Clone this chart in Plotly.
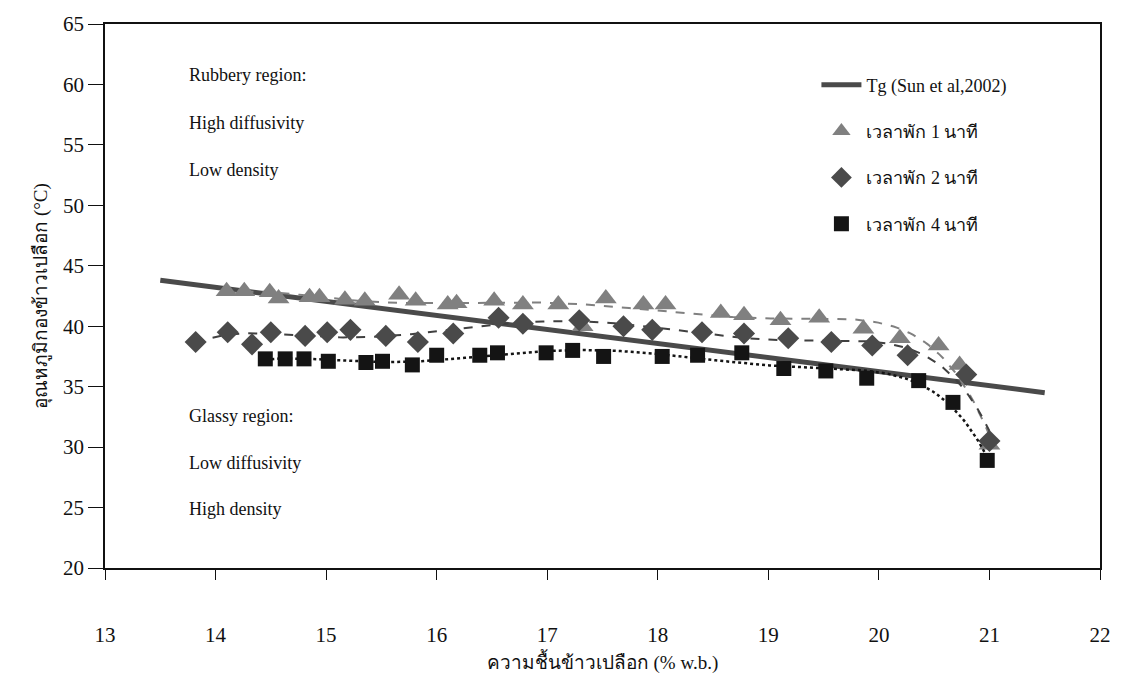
import numpy as np
import plotly.graph_objects as go

# Moisture content (% w.b.) and bulk temperature (°C) for each tempering time
x_1min = [14.10, 14.26, 14.49, 14.57, 14.85, 14.94, 15.17, 15.35, 15.66, 15.81,
          16.10, 16.18, 16.52, 16.78, 17.10, 17.32, 17.53, 17.87, 18.07, 18.57,
          18.78, 19.11, 19.46, 19.86, 20.19, 20.54, 20.73, 21.00]
y_1min = [42.9, 42.9, 42.8, 42.3, 42.4, 42.4, 42.2, 42.1, 42.6, 42.1,
          41.8, 41.9, 42.1, 41.8, 41.8, 40.0, 42.3, 41.8, 41.8, 41.1,
          40.9, 40.5, 40.7, 39.8, 39.0, 38.4, 36.8, 30.2]

x_2min = [13.82, 14.11, 14.33, 14.50, 14.81, 15.01, 15.22, 15.54, 15.83, 16.15,
          16.56, 16.78, 17.29, 17.69, 17.95, 18.40, 18.78, 19.18, 19.57, 19.94,
          20.26, 20.79, 21.00]
y_2min = [38.7, 39.5, 38.5, 39.5, 39.2, 39.5, 39.7, 39.2, 38.7, 39.4,
          40.7, 40.2, 40.5, 40.0, 39.7, 39.5, 39.4, 39.0, 38.7, 38.4,
          37.6, 36.0, 30.5]

x_4min = [14.45, 14.63, 14.80, 15.02, 15.36, 15.51, 15.78, 16.00, 16.39, 16.55,
          16.99, 17.23, 17.51, 18.04, 18.36, 18.76, 19.14, 19.52, 19.89, 20.36,
          20.67, 20.98]
y_4min = [37.3, 37.3, 37.3, 37.1, 37.0, 37.1, 36.8, 37.6, 37.6, 37.8,
          37.8, 38.0, 37.5, 37.5, 37.6, 37.8, 36.5, 36.3, 35.7, 35.5,
          33.7, 28.9]

# Glass transition temperature (Sun et al, 2002)
x_tg = [13.5, 15.5, 17.5, 19.5, 21.5]
y_tg = [43.8, 41.5, 39.2, 36.9, 34.5]

x_ticks = list(range(13, 23))
y_ticks = list(range(20, 70, 5))

FONT = "Liberation Serif, Times New Roman, serif"


def poly_trend(xs, ys, order=6, n=200):
    xs = np.asarray(xs)
    ys = np.asarray(ys)
    xm = xs.mean()
    coef = np.polyfit(xs - xm, ys, order)
    xf = np.linspace(xs.min(), xs.max(), n)
    return xf, np.polyval(coef, xf - xm)


fig = go.Figure()

fig.add_trace(go.Scatter(
    x=x_tg, y=y_tg, mode="lines", name="Tg (Sun et al,2002)",
    line=dict(color="#4a4a4a", width=5), legendgroup="tg"))

series = [
    (x_1min, y_1min, "เวลาพัก 1 นาที", "triangle-up", "#808080", 19, "dash", "#808080", 2),
    (x_2min, y_2min, "เวลาพัก 2 นาที", "diamond", "#4a4a4a", 17, "dash", "#404040", 2),
    (x_4min, y_4min, "เวลาพัก 4 นาที", "square", "#141414", 15, "dot", "#141414", 2.5),
]

for i, (xs, ys, name, sym, col, size, dash, lcol, lw) in enumerate(series):
    xf, yf = poly_trend(xs, ys)
    fig.add_trace(go.Scatter(
        x=xf, y=yf, mode="lines", showlegend=False, hoverinfo="skip",
        line=dict(color=lcol, width=lw, dash=dash)))
    fig.add_trace(go.Scatter(
        x=xs, y=ys, mode="markers", name=name, legendgroup=f"g{i}",
        marker=dict(symbol=sym, color=col, size=size, line=dict(width=0))))

notes = [
    (60.8, "Rubbery region:"), (56.8, "High diffusivity"), (52.9, "Low density"),
    (32.6, "Glassy region:"), (28.7, "Low diffusivity"), (24.9, "High density"),
]
for yv, txt in notes:
    fig.add_annotation(x=13.74, y=yv, text=txt, showarrow=False, xanchor="left",
                       yanchor="middle", font=dict(family=FONT, size=18, color="#111"))

fig.update_layout(
    width=1123, height=686,
    margin=dict(l=105, r=22, t=17, b=118),
    paper_bgcolor="white", plot_bgcolor="white",
    font=dict(family=FONT, size=19, color="#111"),
    showlegend=True,
    legend=dict(x=0.715, y=0.922, xanchor="left", yanchor="top",
                bgcolor="rgba(0,0,0,0)", font=dict(family=FONT, size=18),
                traceorder="grouped", tracegroupgap=20, itemwidth=40),
)

fig.update_xaxes(
    range=[13, 22], tickvals=x_ticks, ticktext=[str(v) for v in x_ticks],
    tickfont=dict(family=FONT, size=21, color="#111"),
    showline=True, linecolor="#111", linewidth=1.5, mirror=True,
    ticks="outside", ticklen=10, tickcolor="#111", tickwidth=1,
    ticklabelstandoff=37, showgrid=False, zeroline=False,
    title=dict(text="ความชื้นข้าวเปลือก (% w.b.)", standoff=10,
               font=dict(family=FONT, size=19)))

fig.update_yaxes(
    range=[20, 65], tickvals=y_ticks, ticktext=[str(v) for v in y_ticks],
    tickfont=dict(family=FONT, size=21, color="#111"),
    showline=True, linecolor="#111", linewidth=1.5, mirror=True,
    ticks="outside", ticklen=15, tickcolor="#111", tickwidth=1,
    showgrid=False, zeroline=False,
    title=dict(text="อุณหภูมิกองข้าวเปลือก (°C)", standoff=10,
               font=dict(family=FONT, size=19)))

fig.write_html("out.html")
